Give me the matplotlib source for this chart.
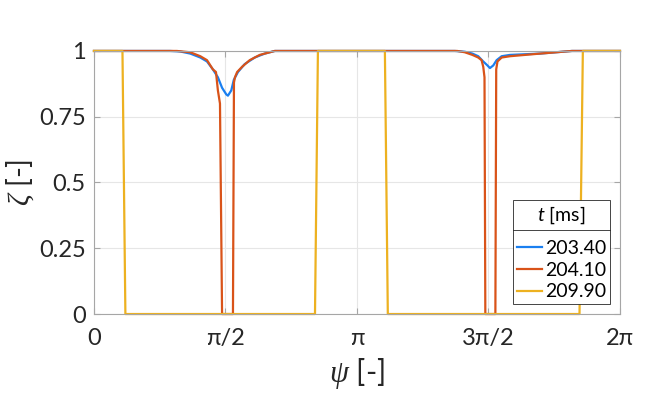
import numpy as np
import matplotlib
matplotlib.use('Agg')
import matplotlib.pyplot as plt
from matplotlib.lines import Line2D

plt.rcParams['font.family'] = ['Lato', 'DejaVu Sans']
plt.rcParams['mathtext.fontset'] = 'custom'
plt.rcParams['mathtext.it'] = 'Liberation Serif:italic'
plt.rcParams['mathtext.rm'] = 'Lato'
plt.rcParams['mathtext.sf'] = 'Lato:italic'

# series: psi [rad], zeta [-]
psi_203 = [0.0, 0.91, 1.03, 1.15, 1.27, 1.35, 1.42, 1.48, 1.53, 1.58, 1.60, 1.64, 1.67,
           1.72, 1.80, 1.92, 2.04, 2.16, 4.31, 4.43, 4.52, 4.59, 4.65, 4.70, 4.73,
           4.77, 4.81, 4.87, 4.97, 5.33, 5.71, 6.2832]
zeta_203 = [1.0, 1.0, 0.998, 0.99, 0.975, 0.96, 0.93, 0.90, 0.86, 0.835, 0.83, 0.85, 0.89,
            0.92, 0.95, 0.975, 0.99, 1.0, 1.0, 0.997, 0.99, 0.98, 0.96, 0.945, 0.935,
            0.945, 0.965, 0.98, 0.985, 0.99, 1.0, 1.0]

psi_204 = [0.0, 0.99, 1.15, 1.27, 1.35, 1.42, 1.457, 1.48, 1.505, 1.53, 1.66, 1.672,
           1.684, 1.71, 1.77, 1.86, 1.98, 2.16, 4.34, 4.43, 4.52, 4.59, 4.63, 4.65,
           4.665, 4.675, 4.795, 4.805, 4.82, 4.87, 4.97, 5.33, 5.71, 6.2832]
zeta_204 = [1.0, 1.0, 0.995, 0.98, 0.965, 0.93, 0.92, 0.85, 0.80, 0.0, 0.0, 0.88,
            0.90, 0.92, 0.94, 0.965, 0.985, 1.0, 1.0, 0.995, 0.985, 0.975, 0.965, 0.94,
            0.90, 0.0, 0.0, 0.93, 0.96, 0.975, 0.98, 0.99, 1.0, 1.0]

psi_209 = [0.0, 0.34, 0.375, 2.64, 2.675, 3.475, 3.51, 5.80, 5.84, 6.2832]
zeta_209 = [1.0, 1.0, 0.0, 0.0, 1.0, 1.0, 0.0, 0.0, 1.0, 1.0]

labels = ['203.40', '204.10', '209.90']
colors = ['#1a7ff0', '#D95319', '#EDB120']

xticks = [0, np.pi / 2, np.pi, 3 * np.pi / 2, 2 * np.pi]
xticklabels = ['0', 'π/2', 'π', '3π/2', '2π']
yticks = [0, 0.25, 0.5, 0.75, 1]
yticklabels = ['0', '0.25', '0.5', '0.75', '1']

fig = plt.figure(figsize=(6.7, 3.95), dpi=100)
ax = fig.add_axes([0.1403, 0.205, 0.785, 0.666])

ax.plot(psi_203, zeta_203, color=colors[0], lw=1.6, label=labels[0], clip_on=False)
ax.plot(psi_204, zeta_204, color=colors[1], lw=1.6, label=labels[1], clip_on=False)
ax.plot(psi_209, zeta_209, color=colors[2], lw=1.6, label=labels[2], clip_on=False)

ax.set_xlim(0, 2 * np.pi)
ax.set_ylim(0, 1)
ax.set_xticks(xticks)
ax.set_xticklabels(xticklabels)
ax.set_yticks(yticks)
ax.set_yticklabels(yticklabels)
ax.grid(True, color='#e6e6e6', lw=0.8)
ax.set_axisbelow(True)
for s in ax.spines.values():
    s.set_color('#a6a6a6')
    s.set_linewidth(0.8)
ax.tick_params(direction='in', colors='#a6a6a6', labelcolor='#262626',
               labelsize=17, top=True, right=True, length=4)
ax.tick_params(axis='x', pad=10)
ax.tick_params(axis='y', pad=6)

ax.set_xlabel(r'$\psi$ [-]', fontsize=22, color='#262626', labelpad=5)
ax.set_ylabel(r'$\zeta$ [-]', fontsize=21, color='#262626', labelpad=2)

leg = ax.legend(title=r'$\mathsf{t}$ [ms]', loc='lower right', fontsize=14,
                title_fontsize=14, fancybox=False, framealpha=1,
                edgecolor='#262626', borderaxespad=0.5, handlelength=1.3,
                handletextpad=0.15, labelspacing=0.25, borderpad=0.2)
leg.get_frame().set_linewidth(0.6)
leg._legend_box.sep = 10

fig.canvas.draw()
r = fig.canvas.get_renderer()
fb = leg.get_frame().get_window_extent(r)
tb = leg.get_title().get_window_extent(r)
ysep = tb.y0 - 4
fig.add_artist(Line2D([fb.x0 / fig.bbox.width, fb.x1 / fig.bbox.width],
                      [ysep / fig.bbox.height, ysep / fig.bbox.height],
                      transform=fig.transFigure, color='#262626', lw=0.6))

fig.savefig('out.png', dpi=100)
